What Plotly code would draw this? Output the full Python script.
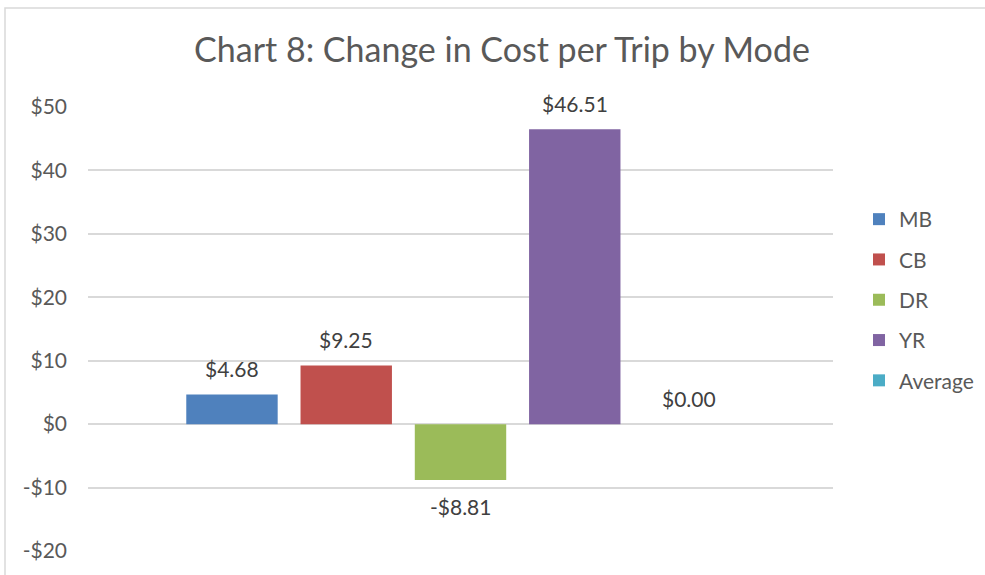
import plotly.graph_objects as go

series_names = ["MB", "CB", "DR", "YR", "Average"]
series_values = [4.68, 9.25, -8.81, 46.51, 0.00]
series_colors = ["#4F81BD", "#C0504D", "#9BBB59", "#8064A2", "#4BACC6"]
tick_values = [-20, -10, 0, 10, 20, 30, 40, 50]
tick_labels = ["-$20", "-$10", "$0", "$10", "$20", "$30", "$40", "$50"]
title_text = "Chart 8: Change in Cost per Trip by Mode"

FONT = "Lato, Open Sans, sans-serif"

def money(v):
    return ("-$%.2f" % abs(v)) if v < 0 else ("$%.2f" % v)

fig = go.Figure()
for i, (name, val, col) in enumerate(zip(series_names, series_values, series_colors)):
    fig.add_trace(go.Bar(
        x=[i], y=[val], name=name, marker=dict(color=col, line=dict(width=0)),
        width=0.8, legendgroup=name, hoverinfo="skip",
    ))
    fig.add_annotation(
        x=i, y=val, xref="x", yref="y", text=money(val), showarrow=False,
        yanchor="middle", yshift=(-26 if val < 0 else 26),
        font=dict(family=FONT, size=21, color="#404040"),
    )

W, H = 985, 575
L, R, T, B = 88, 152, 107, 24
pw, ph = W - L - R, H - T - B

fig.add_shape(
    type="rect", xref="paper", yref="paper",
    x0=(5 - L) / pw, x1=1.5, y0=-0.5, y1=1 + (T - 8) / ph,
    line=dict(color="#D9D9D9", width=1.5), fillcolor="rgba(0,0,0,0)", layer="below",
)

fig.update_layout(
    width=W, height=H,
    margin=dict(l=L, r=R, t=T, b=B, autoexpand=False),
    paper_bgcolor="white", plot_bgcolor="white",
    barmode="overlay",
    title=dict(text=title_text, x=502 / W, xanchor="center", y=1 - 50 / H, yanchor="middle",
               xref="container", yref="container",
               font=dict(family=FONT, size=34, color="#595959")),
    xaxis=dict(range=[-1.26, 5.26], showticklabels=False, showgrid=False, zeroline=False,
               showline=False, ticks="", fixedrange=True),
    yaxis=dict(range=[-20, 50], tickvals=tick_values, ticktext=tick_labels,
               showgrid=True, gridcolor="#D9D9D9", gridwidth=1.5,
               zeroline=True, zerolinecolor="#D9D9D9", zerolinewidth=1.5,
               showline=False, ticks="", ticklabelstandoff=20, fixedrange=True,
               tickfont=dict(family=FONT, size=21, color="#595959")),
    legend=dict(x=(859 - L) / pw, xanchor="left", y=1 - (300 - T) / ph, yanchor="middle",
                font=dict(family=FONT, size=21, color="#595959"),
                traceorder="grouped", tracegroupgap=10, itemwidth=30,
                bgcolor="rgba(0,0,0,0)"),
    showlegend=True,
)

fig.write_html("out.html", config={"displayModeBar": False},
               post_script="document.body.style.margin='0';document.body.style.overflow='hidden';")
